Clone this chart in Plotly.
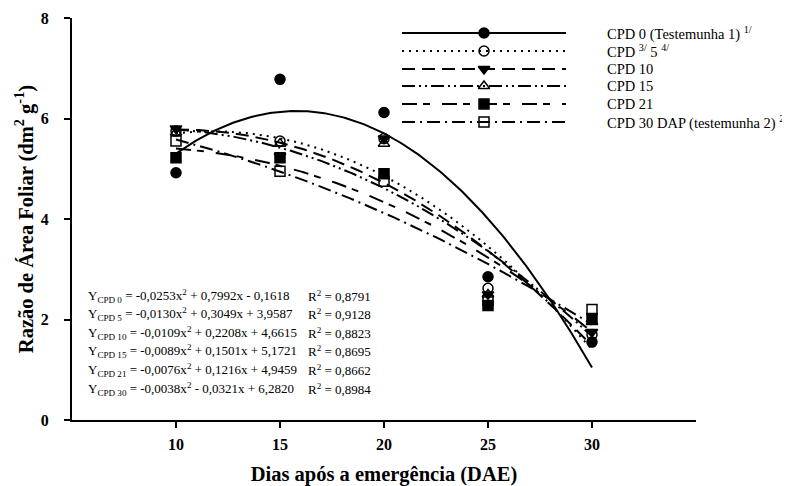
import numpy as np
import plotly.graph_objects as go

# ---------------- data ----------------
dae = [10, 15, 20, 25, 30]
cpd0 = [4.92, 6.78, 6.12, 2.85, 1.55]
cpd5 = [5.75, 5.55, 5.60, 2.62, 1.70]
cpd10 = [5.80, 5.25, 5.60, 2.50, 1.75]
cpd15 = [5.72, 5.50, 5.50, 2.50, 1.95]
cpd21 = [5.22, 5.22, 4.90, 2.28, 2.02]
cpd30 = [5.55, 4.95, 4.75, 2.38, 2.20]

# regression coefficients printed on the chart (a, b, c) for y = a x^2 + b x + c
coef0 = [-0.0253, 0.7992, -0.1618]
coef5 = [-0.0130, 0.3049, 3.9587]
coef10 = [-0.0109, 0.2208, 4.6615]
coef15 = [-0.0089, 0.1501, 5.1721]
coef21 = [-0.0076, 0.1216, 4.9459]
coef30 = [-0.0038, -0.0321, 6.2820]

legend_labels = [
    "CPD 0 (Testemunha 1) <sup>1/</sup>",
    "CPD <sup>3/</sup> 5 <sup>4/</sup>",
    "CPD 10",
    "CPD 15",
    "CPD 21",
    "CPD 30 DAP (testemunha 2) <sup>2/</sup>",
]
equations = [
    "Y<sub>CPD 0</sub> = -0,0253x<sup>2</sup> + 0,7992x - 0,1618",
    "Y<sub>CPD 5</sub> = -0,0130x<sup>2</sup> + 0,3049x + 3,9587",
    "Y<sub>CPD 10</sub> = -0,0109x<sup>2</sup> + 0,2208x + 4,6615",
    "Y<sub>CPD 15</sub> = -0,0089x<sup>2</sup> + 0,1501x + 5,1721",
    "Y<sub>CPD 21</sub> = -0,0076x<sup>2</sup> + 0,1216x + 4,9459",
    "Y<sub>CPD 30</sub> = -0,0038x<sup>2</sup> - 0,0321x + 6,2820",
]
r2 = ["R<sup>2</sup> = 0,8791", "R<sup>2</sup> = 0,9128", "R<sup>2</sup> = 0,8823",
      "R<sup>2</sup> = 0,8695", "R<sup>2</sup> = 0,8662", "R<sup>2</sup> = 0,8984"]
x_ticks = [10, 15, 20, 25, 30]
y_ticks = [0, 2, 4, 6, 8]

# ---------------- styles ----------------
series = [cpd0, cpd5, cpd10, cpd15, cpd21, cpd30]
coefs = [coef0, coef5, coef10, coef15, coef21, coef30]
dashes = ["solid", "2px,5px", "13px,7px", "13px,4px,2px,4px,2px,4px",
          "15px,6px,7px,12px", "13px,5px,2px,5px"]
symbols = ["circle", "circle-open", "triangle-down", "triangle-up-open",
           "square", "square-open"]

FONT = "Liberation Serif"
OFF = 8                       # page body margin in the browser
W, H = 790 - OFF, 486 - OFF   # figure size
L, R, T, B = 72, 696, 18, 420  # plot area in screen pixels

fig = go.Figure()

xs = np.linspace(dae[0], dae[-1], 200)
for cf, dash in zip(coefs, dashes):
    ys = np.polyval(cf, xs)
    fig.add_trace(go.Scatter(x=xs, y=ys, mode="lines",
                             line=dict(color="black", width=2, dash=dash),
                             showlegend=False, hoverinfo="skip"))
for vals, sym in zip(series, symbols):
    fig.add_trace(go.Scatter(x=dae, y=vals, mode="markers",
                             marker=dict(symbol=sym, size=10, color="black",
                                         line=dict(color="black", width=1.5)),
                             showlegend=False))

# custom legend on an overlay axis measured in screen pixels
leg_x0, leg_x1 = 402, 566
leg_rows = [33, 51, 69, 86, 104, 122]
for lab, dash, sym, yr in zip(legend_labels, dashes, symbols, leg_rows):
    xm = (leg_x0 + leg_x1) / 2
    fig.add_trace(go.Scatter(x=[leg_x0, leg_x1], y=[yr, yr],
                             xaxis="x2", yaxis="y2", mode="lines",
                             line=dict(color="black", width=2, dash=dash),
                             showlegend=False, hoverinfo="skip"))
    fig.add_trace(go.Scatter(x=[xm], y=[yr], xaxis="x2", yaxis="y2",
                             mode="markers",
                             marker=dict(symbol=sym, size=10, color="black",
                                         line=dict(color="black", width=1.5)),
                             showlegend=False, hoverinfo="skip"))
    fig.add_annotation(x=605, y=yr, xref="x2", yref="y2", text=lab,
                       showarrow=False, xanchor="left", yanchor="middle",
                       font=dict(family=FONT, size=14.5, color="black"))

eq_rows = [296, 314, 333, 351, 370, 389]
for eq, rr, yr in zip(equations, r2, eq_rows):
    fig.add_annotation(x=86, y=yr, xref="x2", yref="y2", text=eq,
                       showarrow=False, xanchor="left", yanchor="middle",
                       font=dict(family=FONT, size=13, color="black"))
    fig.add_annotation(x=306, y=yr, xref="x2", yref="y2", text=rr,
                       showarrow=False, xanchor="left", yanchor="middle",
                       font=dict(family=FONT, size=13, color="black"))

fig.update_layout(
    width=W, height=H,
    margin=dict(l=L - OFF, r=W - (R - OFF), t=T - OFF, b=H - (B - OFF),
                autoexpand=False),
    paper_bgcolor="white", plot_bgcolor="white",
    font=dict(family=FONT, color="black"),
    xaxis=dict(range=[5, 35], tickvals=x_ticks, showgrid=False, zeroline=False,
               showline=True, linecolor="black", linewidth=2,
               ticks="outside", ticklen=6, tickwidth=1.5, tickcolor="black",
               ticklabelstandoff=3,
               tickfont=dict(family=FONT, size=16, weight="bold"),
               title=dict(text="Dias após a emergência (DAE)", standoff=15,
                          font=dict(family=FONT, size=20.5, weight="bold"))),
    yaxis=dict(range=[0, 8], tickvals=y_ticks, showgrid=False, zeroline=False,
               showline=True, linecolor="black", linewidth=2,
               ticks="outside", ticklen=6, tickwidth=1.5, tickcolor="black",
               ticklabelstandoff=12,
               tickfont=dict(family=FONT, size=16, weight="bold"),
               title=dict(text="Razão de Área Foliar (dm<sup>2</sup> g<sup>-1</sup>)",
                          standoff=2,
                          font=dict(family=FONT, size=20.5, weight="bold"))),
    xaxis2=dict(range=[L, R], overlaying="x", visible=False, fixedrange=True),
    yaxis2=dict(range=[B, T], overlaying="y", visible=False, fixedrange=True),
)

fig.write_html("out.html")
